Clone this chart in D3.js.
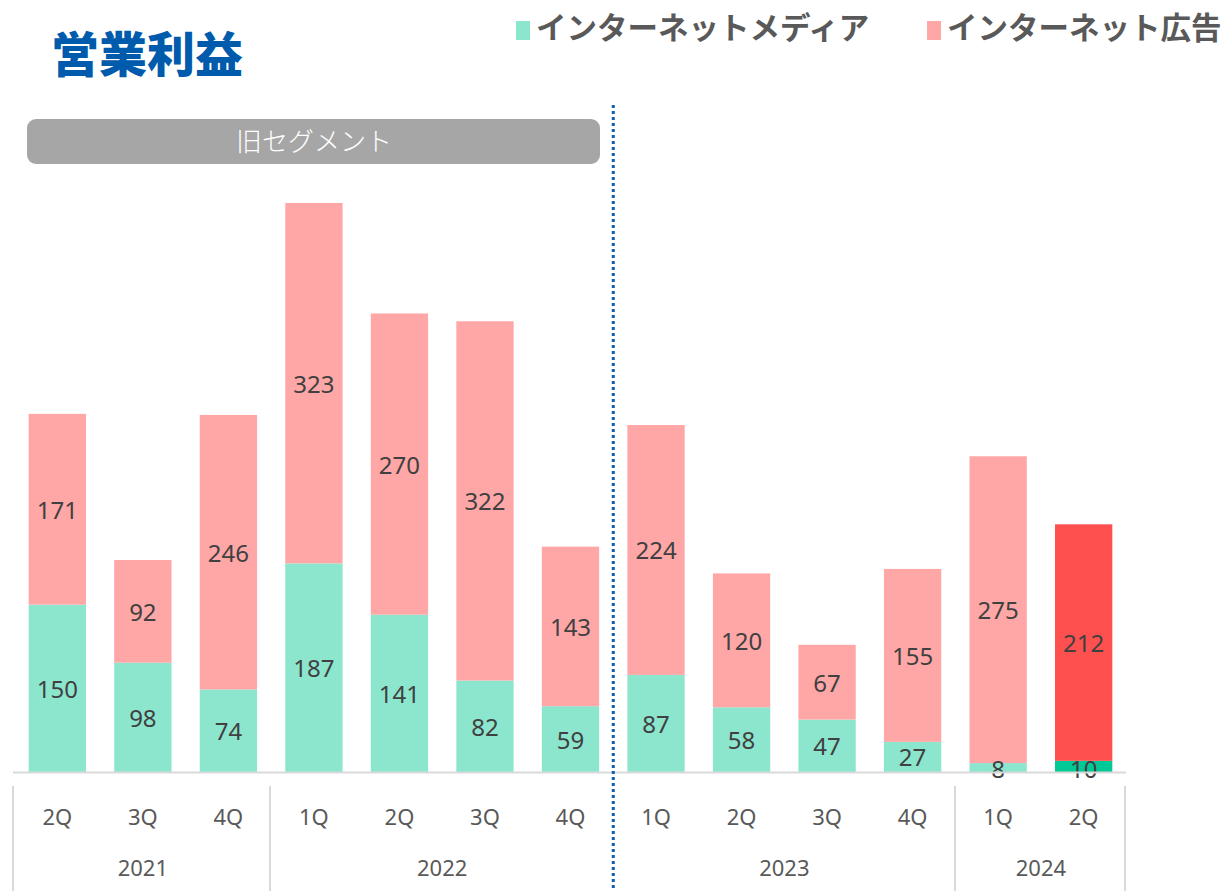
<!DOCTYPE html>
<html lang="ja">
<head>
<meta charset="UTF-8" />
<script src="https://d3js.org/d3.v7.min.js"></script>
<title>営業利益</title>
<style>
  body { margin: 0; background: #fff; }
  text { font-family: "Noto Sans CJK JP", "Noto Sans", sans-serif; }
  text.num { font-family: "Noto Sans", sans-serif; }
</style>
</head>
<body>
<svg width="1229" height="891"></svg>
<script>
  const quarters = ["2Q", "3Q", "4Q", "1Q", "2Q", "3Q", "4Q", "1Q", "2Q", "3Q", "4Q", "1Q", "2Q"];
  const years = ["2021", "2021", "2021", "2022", "2022", "2022", "2022", "2023", "2023", "2023", "2023", "2024", "2024"];
  const media = [150, 98, 74, 187, 141, 82, 59, 87, 58, 47, 27, 8, 10];
  const ads = [171, 92, 246, 323, 270, 322, 143, 224, 120, 67, 155, 275, 212];
  const seriesNames = ["インターネットメディア", "インターネット広告"];

  const svg = d3.select("svg");
  const baseY = 772;

  const x = d3.scaleBand()
    .domain(d3.range(quarters.length))
    .range([15, 1126])
    .paddingInner(0.33)
    .paddingOuter(0.16);

  const y = d3.scaleLinear()
    .domain([0, 510])
    .range([baseY, 203]);

  const lastIdx = quarters.length - 1;
  const colMedia = i => i === lastIdx ? "#00c896" : "#8ce6ce";
  const colAds = i => i === lastIdx ? "#ff5050" : "#ffa7a7";

  // title
  svg.append("text")
    .attr("x", 51).attr("y", 72)
    .attr("font-size", 48).attr("font-weight", 900)
    .attr("fill", "#005bac")
    .text("営業利益");

  // legend
  const legend = [
    { name: seriesNames[0], color: "#8ce6ce", x: 516 },
    { name: seriesNames[1], color: "#ffa7a7", x: 927 }
  ];
  legend.forEach(l => {
    svg.append("rect").attr("x", l.x).attr("y", 21).attr("width", 14).attr("height", 19).attr("fill", l.color);
    svg.append("text")
      .attr("x", l.x + 20).attr("y", 39)
      .attr("font-size", 30.5).attr("font-weight", 700)
      .attr("fill", "#595959")
      .text(l.name);
  });

  // old segment badge
  svg.append("rect")
    .attr("x", 27).attr("y", 119).attr("width", 573).attr("height", 45)
    .attr("rx", 9).attr("fill", "#a6a6a6");
  svg.append("text")
    .attr("x", 314).attr("y", 151)
    .attr("text-anchor", "middle")
    .attr("font-size", 26).attr("font-weight", 300)
    .attr("fill", "#fff")
    .text("旧セグメント");

  // bars
  const g = svg.append("g");
  media.forEach((m, i) => {
    const a = ads[i];
    g.append("rect")
      .attr("x", x(i)).attr("width", x.bandwidth())
      .attr("y", y(m)).attr("height", y(0) - y(m))
      .attr("fill", colMedia(i));
    g.append("rect")
      .attr("x", x(i)).attr("width", x.bandwidth())
      .attr("y", y(m + a)).attr("height", y(m) - y(m + a))
      .attr("fill", colAds(i));
  });

  // value labels
  const labelStyle = sel => sel
    .attr("class", "num")
    .attr("text-anchor", "middle")
    .attr("dominant-baseline", "central")
    .attr("font-size", 24)
    .attr("fill", "#404040");
  media.forEach((m, i) => {
    const cx = x(i) + x.bandwidth() / 2;
    let cy = (y(0) + y(m)) / 2;
    if (m < 15) cy = y(0) - 4;
    g.append("text").attr("x", cx).attr("y", cy).call(labelStyle).text(m);
    g.append("text").attr("x", cx).attr("y", (y(m) + y(m + ads[i])) / 2).call(labelStyle).text(ads[i]);
  });

  // baseline
  svg.append("line")
    .attr("x1", 13).attr("x2", 1126)
    .attr("y1", baseY + 0.5).attr("y2", baseY + 0.5)
    .attr("stroke", "#d9d9d9").attr("stroke-width", 2);

  // quarter labels
  quarters.forEach((q, i) => {
    svg.append("text")
      .attr("class", "num")
      .attr("x", x(i) + x.bandwidth() / 2).attr("y", 825)
      .attr("text-anchor", "middle")
      .attr("font-size", 22).attr("fill", "#595959")
      .text(q);
  });

  // year groups
  const groups = d3.groups(d3.range(quarters.length), i => years[i]);
  const step = x.step();
  groups.forEach(([yr, idx]) => {
    const x0 = x(idx[0]) - (step - x.bandwidth()) / 2;
    const x1 = x(idx[idx.length - 1]) + x.bandwidth() + (step - x.bandwidth()) / 2;
    svg.append("text")
      .attr("class", "num")
      .attr("x", (x0 + x1) / 2).attr("y", 876)
      .attr("text-anchor", "middle")
      .attr("font-size", 22).attr("fill", "#595959")
      .text(yr);
  });
  [13, 270, 955, 1125].forEach(ex => {
    svg.append("line")
      .attr("x1", ex).attr("x2", ex)
      .attr("y1", 786).attr("y2", 891)
      .attr("stroke", "#d9d9d9").attr("stroke-width", 2);
  });

  // segment divider
  const divX = (x(6) + x.bandwidth() + x(7)) / 2;
  svg.append("line")
    .attr("x1", divX).attr("x2", divX)
    .attr("y1", 105).attr("y2", 891)
    .attr("stroke", "#1060b0").attr("stroke-width", 3)
    .attr("stroke-dasharray", "3,3");
</script>
</body>
</html>
